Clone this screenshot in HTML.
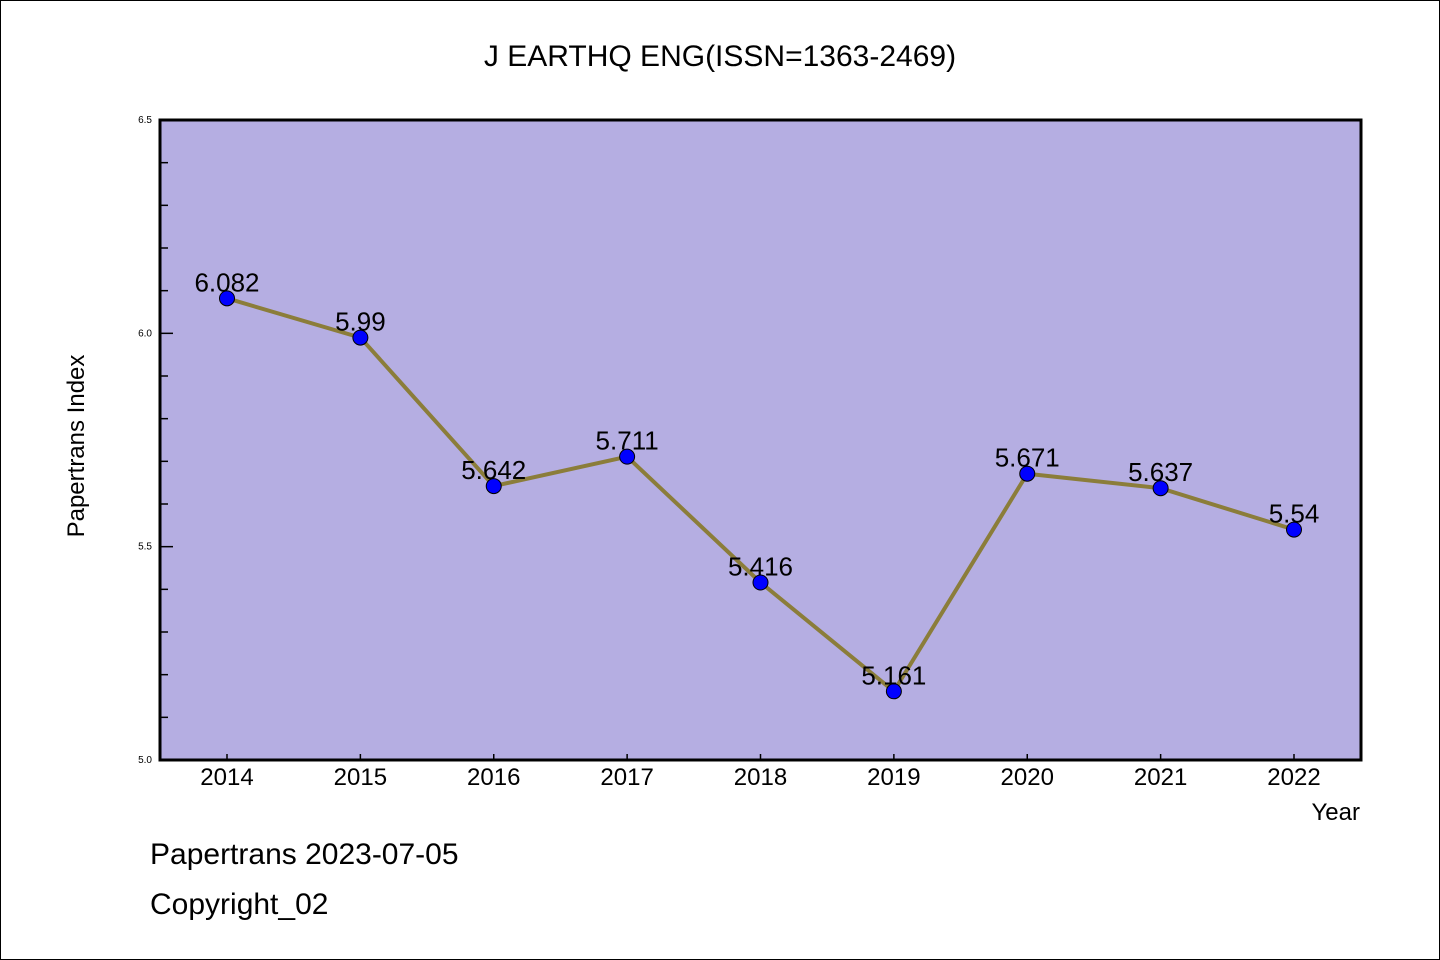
<!DOCTYPE html>
<html><head><meta charset="utf-8"><style>
body{margin:0;background:#fff}
svg{display:block}
text{font-family:"WenQuanYi Zen Hei","Liberation Sans",sans-serif;fill:#000}
</style></head><body>
<svg id="chart" width="1440" height="960" xmlns="http://www.w3.org/2000/svg">
<rect x="0.5" y="0.5" width="1439" height="959" fill="#fff" stroke="#000"/>
<text x="720" y="66" font-size="30" text-anchor="middle">J EARTHQ ENG(ISSN=1363-2469)</text>
<rect x="160" y="120" width="1201" height="640" fill="#b5aee2"/>
<g id="yaxis"></g>
<g id="xaxis"></g>
<g id="series"></g>
<rect x="160" y="120" width="1201" height="640" fill="none" stroke="#000" stroke-width="3"/>
<text transform="translate(84,446) rotate(-90)" font-size="24" text-anchor="middle">Papertrans Index</text>
<text x="1360" y="820" font-size="24" text-anchor="end">Year</text>
<text x="150" y="864" font-size="30">Papertrans 2023-07-05</text>
<text x="150" y="914" font-size="30">Copyright_02</text>
</svg>
<script>
const years=["2014","2015","2016","2017","2018","2019","2020","2021","2022"];
const values=[6.082,5.99,5.642,5.711,5.416,5.161,5.671,5.637,5.54];
const labels=["6.082","5.99","5.642","5.711","5.416","5.161","5.671","5.637","5.54"];
const yTicks=[5.0,5.5,6.0,6.5];
const yTickLabels=["5.0","5.5","6.0","6.5"];
const NS="http://www.w3.org/2000/svg";
const x0=160,x1=1361,y0=760,y1=120,yMin=5.0,yMax=6.5;
const xs=i=>227+i*(1294-227)/(years.length-1);
const ys=v=>y0-(v-yMin)/(yMax-yMin)*(y0-y1);
function mk(t,a,p){const e=document.createElementNS(NS,t);for(const k in a)e.setAttribute(k,a[k]);p.appendChild(e);return e;}
const ya=document.getElementById('yaxis'),xa=document.getElementById('xaxis'),se=document.getElementById('series');
for(let v=yMin;v<=yMax+1e-9;v+=0.1){
 const major=Math.abs(v*2-Math.round(v*2))<1e-6;
 const l=mk('line',{x1:x0,x2:x0+(major?13:8),y1:ys(v),y2:ys(v),stroke:'#000','stroke-width':1.5},ya);
 
 
}
yTicks.forEach((v,i)=>{
 const t=mk('text',{x:152,y:ys(v)+3,'font-size':10,'text-anchor':'end'},ya);t.textContent=yTickLabels[i];
 
 
});
years.forEach((y,i)=>{
 const l=mk('line',{x1:xs(i),x2:xs(i),y1:y0,y2:y0-6,stroke:'#000','stroke-width':1.5},xa);
 
 
 const t=mk('text',{x:xs(i),y:785,'font-size':24,'text-anchor':'middle'},xa);t.textContent=y;
 
 
});
const pl=mk('polyline',{points:values.map((v,i)=>xs(i)+','+ys(v)).join(' '),fill:'none',stroke:'#8b7d3a','stroke-width':4},se);


values.forEach((v,i)=>{
 const c=mk('circle',{cx:xs(i),cy:ys(v),r:7.5,fill:'#0000ff',stroke:'#000','stroke-width':1},se);
 
 
 const t=mk('text',{x:xs(i),y:ys(v)-7,'font-size':26,'text-anchor':'middle'},se);t.textContent=labels[i];
 
 
});
</script>
</body></html>
